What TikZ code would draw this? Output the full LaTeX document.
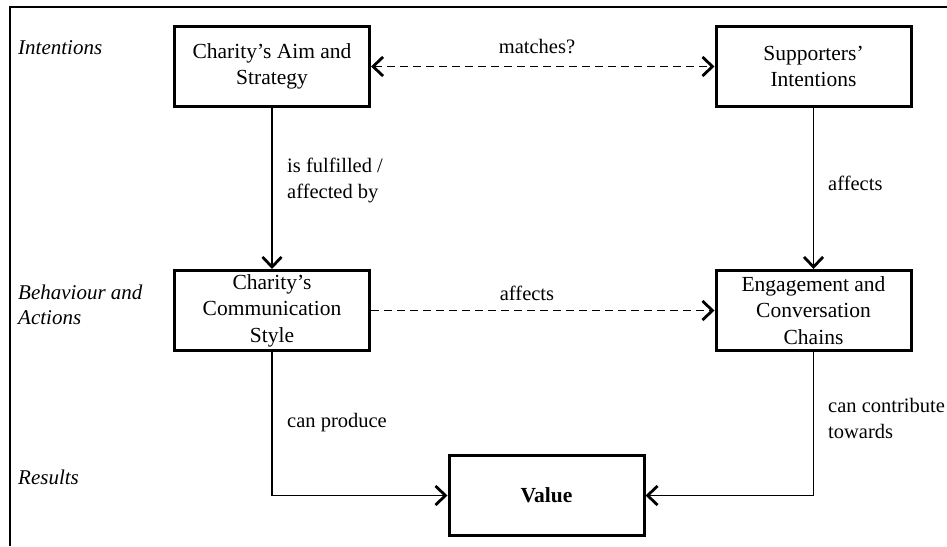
\documentclass[tikz,border=0pt]{standalone}
\usepackage{fontspec}
\setmainfont{Liberation Serif}
\usetikzlibrary{arrows.meta}
\begin{document}
\begin{tikzpicture}[x=1pt,y=-1pt,
  every node/.style={font=\fontsize{21.5}{26.5}\selectfont},
  box/.style={draw,line width=3pt,minimum width=195pt,minimum height=80pt,align=center,inner sep=2pt},
  lbl/.style={anchor=west,align=left,inner sep=0pt,font=\fontsize{20.5}{25.5}\selectfont},
  cat/.style={anchor=west,align=left,inner sep=0pt,font=\fontsize{21}{25}\selectfont\itshape},
  tip/.style={-{Straight Barb[length=10pt,width=19pt,line width=2.8pt]}},
  conn/.style={line width=1.5pt,tip},
  dconn/.style={line width=1.5pt,dash pattern=on 8pt off 5pt}]
\useasboundingbox (0,0) rectangle (947,546);
\draw[line width=1.5pt] (10,546) -- (10,7) -- (947,7);
% category labels
\node[cat] (ci) at (18,48) {Intentions};
\node[cat] (cb) at (18,304.5) {Behaviour and\\Actions};
\node[cat] (cr) at (18,477) {Results};
% boxes
\node[box] (aim) at (272,66.5) {Charity’s Aim and\\Strategy};
\node[box] (sup) at (813.5,66.5) {Supporters’\\Intentions};
\node[box] (com) at (272,310.5) {Charity’s\\Communication\\Style};
\node[box] (eng) at (813.5,310.5) {Engagement and\\Conversation\\Chains};
\node[box,font=\fontsize{21.5}{26.5}\selectfont\bfseries] (val) at (546.5,495.5) {Value};
% corner coordinates
\coordinate (c1) at (com.south |- val.west);
\coordinate (c2) at (eng.south |- val.east);
% connectors
\draw[dconn,{Straight Barb[length=10pt,width=19pt,line width=2.8pt]}-{Straight Barb[length=10pt,width=19pt,line width=2.8pt]}] (aim.east) -- (sup.west);
\draw[dconn,tip] (com.east) -- (eng.west);
\draw[conn] (aim.south) -- (com.north);
\draw[conn] (sup.south) -- (eng.north);
\draw[conn] (com.south) -- (c1) -- (val.west);
\draw[conn] (eng.south) -- (c2) -- (val.east);
% connector labels
\node[inner sep=0pt,font=\fontsize{20.5}{25.5}\selectfont] (l1) at (537,47) {matches?};
\node[inner sep=0pt,font=\fontsize{20.5}{25.5}\selectfont] (l2) at (527,293) {affects};
\node[lbl] (l3) at (287,180.5) {is fulfilled /\\affected by};
\node[lbl] (l4) at (828,183) {affects};
\node[lbl] (l5) at (287,423) {can produce};
\node[lbl] (l6) at (828,418.5) {can contribute\\towards};
\end{tikzpicture}
\end{document}
